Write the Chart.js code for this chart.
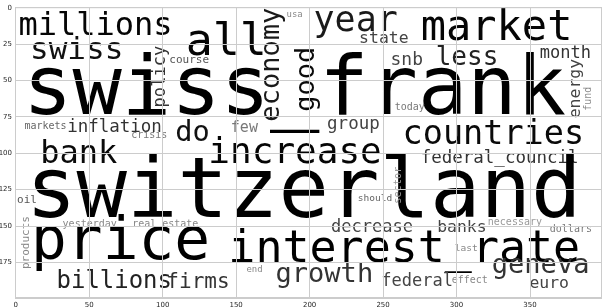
<!DOCTYPE html>
<html>
<head>
<meta charset="utf-8">
<script src="https://cdn.jsdelivr.net/npm/chart.js@4"></script>
<style>
  html, body { margin: 0; padding: 0; background: #fff; }
  #wrap { width: 602px; height: 308px; }
</style>
</head>
<body>
<div id="wrap"><canvas id="cloud"></canvas></div>
<script>
// Word cloud laid out on a 400x200 image grid (imshow coords, y down).
// x/y = text origin (left end of baseline; for rotated words the bottom end).
const WORDS = [
  'millions', 'swiss', 'all', 'year', 'state', 'market', 'snb', 'less', 'month',
  'course', 'usa', 'swiss_frank', 'today', 'countries', 'federal_council',
  'switzerland', 'inflation', 'markets', 'crisis', 'bank', 'do', 'few', 'group',
  'increase', 'oil', 'should', 'yesterday', 'real_estate', 'decrease', 'banks',
  'necessary', 'dollars', 'price', 'interest_rate', 'last', 'billions', 'firms',
  'end', 'growth', 'federal', 'effect', 'geneva', 'euro',
  'economy', 'good', 'policy', 'energy', 'fund', 'products', 'sector'
];
const WORD_X = [
  1.8, 9.7, 115.7, 202.7, 233.7, 275.6, 255.1, 285.8, 356.7,
  104.5, 184.3, 5.0, 257.9, 263.3, 275.6,
  7.0, 35.0, 6.0, 78.6, 16.6, 108.5, 146.4, 211.9,
  131.1, 0.9, 232.7, 31.9, 79.3, 214.6, 286.8,
  321.3, 363.5, 10.4, 144.7, 298.8, 27.8, 102.5,
  157.0, 176.8, 248.7, 296.7, 324.0, 349.6,
  179.5, 202.7, 101.8, 384.0, 391.5, 9.1, 262.0
];
const WORD_Y = [
  18.4, 35.4, 32.7, 15.6, 23.8, 21.8, 39.5, 39.5, 34.7,
  38.1, 6.1, 72.8, 70.1, 93.9, 106.8,
  143.5, 85.0, 83.0, 89.8, 106.8, 91.2, 85.0, 83.0,
  106.8, 134.0, 132.7, 151.0, 151.0, 154.4, 154.4,
  149.0, 154.4, 172.8, 174.8, 167.3, 192.5, 192.5,
  181.6, 188.4, 191.2, 189.1, 182.3, 192.5,
  78.2, 71.4, 68.4, 75.9, 70.7, 179.6, 134.7
];
const WORD_SIZE = [
  21.8, 21.1, 30.6, 23.8, 11.2, 28.6, 12.2, 17.7, 11.6,
  7.5, 6.1, 55.8, 6.8, 22.8, 11.9,
  57.1, 11.9, 6.8, 6.8, 21.8, 19.5, 10.2, 11.9,
  24.5, 7.5, 6.5, 6.8, 6.8, 11.6, 11.2,
  6.8, 6.8, 40.5, 30.6, 6.5, 16.3, 14.3,
  6.1, 18.4, 11.6, 6.8, 18.4, 11.2,
  18.4, 18.4, 11.6, 11.2, 6.8, 7.5, 7.0
];
const WORD_ROT = [
  0, 0, 0, 0, 0, 0, 0, 0, 0,
  0, 0, 0, 0, 0, 0,
  0, 0, 0, 0, 0, 0, 0, 0,
  0, 0, 0, 0, 0, 0, 0,
  0, 0, 0, 0, 0, 0, 0,
  0, 0, 0, 0, 0, 0,
  90, 90, 90, 90, 90, 90, 90
];
const WORD_SHADE = [
  '#050505', '#111111', '#050505', '#1a1a1a', '#444444', '#050505', '#444444', '#222222', '#333333',
  '#555555', '#888888', '#000000', '#777777', '#0a0a0a', '#333333',
  '#000000', '#333333', '#666666', '#777777', '#0a0a0a', '#111111', '#777777', '#444444',
  '#050505', '#555555', '#666666', '#888888', '#888888', '#444444', '#444444',
  '#999999', '#777777', '#000000', '#000000', '#888888', '#222222', '#333333',
  '#888888', '#333333', '#444444', '#888888', '#333333', '#444444',
  '#1a1a1a', '#0a0a0a', '#333333', '#444444', '#888888', '#888888', '#999999'
];

const X_TICKS = [0, 50, 100, 150, 200, 250, 300, 350];
const Y_TICKS = [0, 25, 50, 75, 100, 125, 150, 175];

const GRID = '#cccccc';
const TICK_FONT = { family: "'DejaVu Sans', sans-serif", size: 7 };
const TICK_COLOR = '#262626';

// words go under the grid, like imshow with axisbelow
const wordPlugin = {
  id: 'words',
  beforeDraw(chart) {
    const { ctx, chartArea: a, scales: { x, y } } = chart;
    ctx.save();
    ctx.fillStyle = '#fff';
    ctx.fillRect(0, 0, chart.width, chart.height);
    ctx.beginPath();
    ctx.rect(a.left, a.top, a.right - a.left, a.bottom - a.top);
    ctx.clip();
    const unit = Math.abs(x.getPixelForValue(100) - x.getPixelForValue(0)) / 100;
    WORDS.forEach((w, i) => {
      ctx.save();
      ctx.translate(x.getPixelForValue(WORD_X[i]), y.getPixelForValue(WORD_Y[i]));
      if (WORD_ROT[i]) ctx.rotate(-Math.PI / 2);
      ctx.font = (WORD_SIZE[i] * unit).toFixed(2) + "px 'DejaVu Sans Mono', monospace";
      ctx.fillStyle = WORD_SHADE[i];
      ctx.textBaseline = 'alphabetic';
      ctx.textAlign = 'left';
      ctx.fillText(w, 0, 0);
      ctx.restore();
    });
    ctx.restore();
  },
  afterDraw(chart) {
    const { ctx, chartArea: a } = chart;
    ctx.save();
    ctx.strokeStyle = GRID;
    ctx.lineWidth = 1;
    ctx.strokeRect(a.left + 0.5, a.top + 0.5, a.right - a.left - 1, a.bottom - a.top - 1);
    ctx.restore();
  }
};

new Chart(document.getElementById('cloud'), {
  type: 'scatter',
  data: {
    datasets: [{
      data: WORDS.map((w, i) => ({ x: WORD_X[i], y: WORD_Y[i] })),
      pointRadius: 0,
      pointHoverRadius: 0
    }]
  },
  options: {
    responsive: true,
    maintainAspectRatio: false,
    animation: false,
    events: [],
    layout: { padding: { top: 4, right: 0, left: 0, bottom: 0 } },
    plugins: {
      legend: { display: false },
      tooltip: { enabled: false }
    },
    scales: {
      x: {
        type: 'linear',
        min: -0.5,
        max: 399,
        grid: { color: GRID, drawTicks: false },
        border: { color: GRID },
        ticks: { font: TICK_FONT, color: TICK_COLOR, padding: 3, maxRotation: 0 },
        afterBuildTicks(s) { s.ticks = X_TICKS.map(v => ({ value: v })); },
        afterFit(s) { s.height = 10; }
      },
      y: {
        type: 'linear',
        reverse: true,
        min: -0.5,
        max: 199.5,
        grid: { color: GRID, drawTicks: false },
        border: { color: GRID },
        ticks: { font: TICK_FONT, color: TICK_COLOR, padding: 3 },
        afterBuildTicks(s) { s.ticks = Y_TICKS.map(v => ({ value: v })); },
        afterFit(s) { s.height = undefined; s.width = 15; }
      }
    }
  },
  plugins: [wordPlugin]
});
</script>
</body>
</html>
